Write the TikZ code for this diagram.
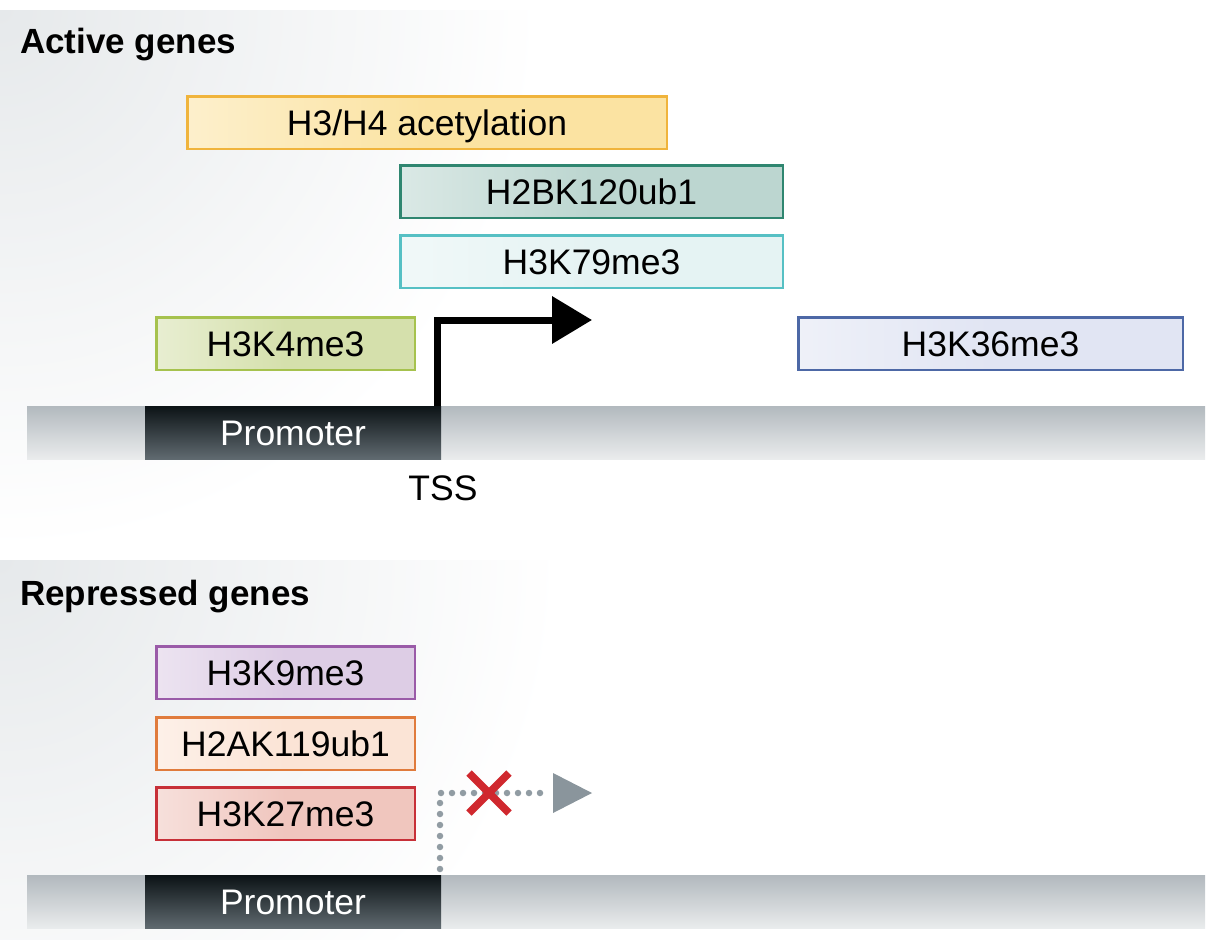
\documentclass[tikz,border=0pt]{standalone}
\usepackage{fontspec}
\setmainfont{Liberation Sans}
\usetikzlibrary{arrows.meta}
\definecolor{bgc}{HTML}{E6E9EB}
\definecolor{dnatop}{HTML}{B2B9BE}
\definecolor{dnabot}{HTML}{EAECED}
\definecolor{promtop}{HTML}{0C1316}
\definecolor{prombot}{HTML}{606A70}
\definecolor{acB}{HTML}{F0B43C}\definecolor{acF}{HTML}{FBE3A2}
\definecolor{ubB}{HTML}{2F8670}\definecolor{ubF}{HTML}{BCD6D0}
\definecolor{k79B}{HTML}{56C0C4}\definecolor{k79F}{HTML}{E5F3F3}
\definecolor{k4B}{HTML}{A6C24E}\definecolor{k4F}{HTML}{D5E0AC}
\definecolor{k36B}{HTML}{4D68A6}\definecolor{k36F}{HTML}{E1E5F3}
\definecolor{k9B}{HTML}{9A5BA8}\definecolor{k9F}{HTML}{DDCDE5}
\definecolor{a119B}{HTML}{E07B3C}\definecolor{a119F}{HTML}{FBE4D6}
\definecolor{k27B}{HTML}{C73038}\definecolor{k27F}{HTML}{F0C6BE}
\definecolor{dotc}{HTML}{919CA3}
\definecolor{tipc}{HTML}{8A959C}
\definecolor{crossc}{HTML}{D0282E}
\begin{document}
\begin{tikzpicture}[x=1pt,y=-1pt,
  txt/.style={font=\fontsize{35.5}{40}\selectfont, text height=25pt, text depth=0pt, inner sep=0pt},
  title/.style={font=\fontsize{35}{40}\selectfont\bfseries, inner sep=0pt, anchor=base west},
  markbox/.style n args={3}{txt, draw=#1, line width=2.5pt, left color=#2!55!white, right color=#2, middle color=#2,
     minimum width=#3, minimum height=52.5pt},
  dna/.style={top color=dnatop, bottom color=dnabot, minimum width=1178pt, minimum height=53pt, inner sep=0pt},
  promoter/.style={txt, text=white, top color=promtop, bottom color=prombot, minimum width=296pt, minimum height=53pt},
  startarrow/.style={line width=7pt, line join=miter, -{Triangle[length=40pt,width=46pt]}},
  dotline/.style={dotc, line width=6.5pt, line cap=round, dash pattern=on 0pt off 11pt},
  cross/.style={crossc, line width=7.5pt}
]
\useasboundingbox (0,0) rectangle (1208,940);
% backgrounds
\begin{scope}
  \clip (0,10) rectangle (1208,540);
  \shade[inner color=bgc, outer color=white] (0,10) circle (540);
\end{scope}
\begin{scope}
  \clip (0,560) rectangle (1208,940);
  \shade[inner color=bgc, outer color=white] (0,560) circle (560);
\end{scope}

% Active genes
\node[title] (t1) at (20,53) {Active genes};
\node[markbox={acB}{acF}{479.5pt}] (ac) at (427,122.5) {H3/H4 acetylation};
\node[markbox={ubB}{ubF}{382.5pt}] (ub) at (591.5,191.5) {H2BK120ub1};
\node[markbox={k79B}{k79F}{382.5pt}] (k79) at (591.5,261.5) {H3K79me3};
\node[markbox={k4B}{k4F}{258.5pt}] (k4) at (285.5,343.5) {H3K4me3};
\node[markbox={k36B}{k36F}{384.5pt}] (k36) at (990.5,343.5) {H3K36me3};
\node[dna] (dna1) at (616,432.5) {};
\node[promoter] (prom1) at (293,432.5) {Promoter};
\node[txt] (tss) at (443,488) {TSS};
\coordinate (tip1) at (592,320);
\draw[startarrow] ([xshift=-3.5pt]prom1.north east) |- (tip1);

% Repressed genes
\node[title] (t2) at (20,605) {Repressed genes};
\node[markbox={k9B}{k9F}{258.5pt}] (k9) at (285.5,672.5) {H3K9me3};
\node[markbox={a119B}{a119F}{258.5pt}] (a119) at (285.5,743.5) {H2AK119ub1};
\node[markbox={k27B}{k27F}{258.5pt}] (k27) at (285.5,813.5) {H3K27me3};
\node[dna] (dna2) at (616,902) {};
\node[promoter] (prom2) at (293,902) {Promoter};
\coordinate (dotstart) at (440,869);
\coordinate (dotend) at (548,793);
\coordinate (tip2) at (592,793);
\coordinate (xc) at (489,793);
\draw[dotline] (dotstart) |- (dotend);
\fill[tipc] (tip2) -- ++(-39,-20) -- ++(0,40) -- cycle;
\draw[cross] ([shift={(-20,-20)}]xc) -- ([shift={(20,20)}]xc);
\draw[cross] ([shift={(-20,20)}]xc) -- ([shift={(20,-20)}]xc);
\end{tikzpicture}
\end{document}
